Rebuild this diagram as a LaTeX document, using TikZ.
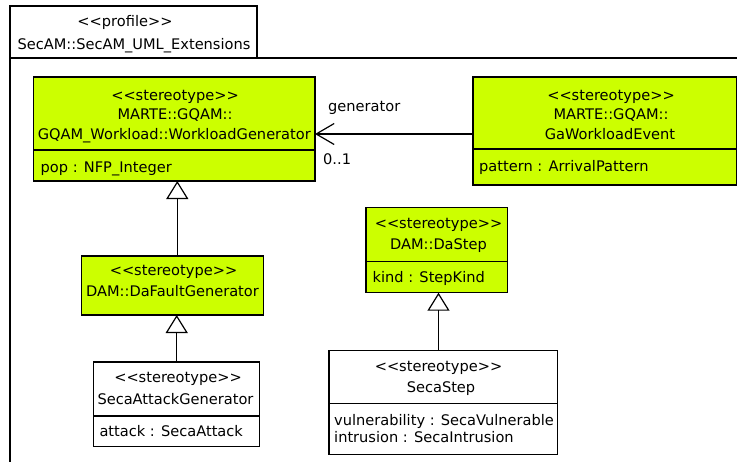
\documentclass[tikz,border=0pt]{standalone}
\usepackage{fontspec}
\newfontfamily\umlfont{DejaVu Sans}
\usetikzlibrary{arrows.meta}

\definecolor{Stereo}{HTML}{CCFF00}

\tikzset{
  uml/.style={draw, line width=1.2pt, anchor=north west, inner sep=0pt, outer sep=0pt},
  txt/.style={inner sep=0pt, anchor=base},
  attr/.style={inner sep=0pt, anchor=base west},
  inherit/.style={-{Triangle[open, length=18pt, width=22pt]}, line width=1.2pt},
  assoc/.style={-{Straight Barb[length=18pt, width=21pt]}, line width=1.2pt},
}

\begin{document}
\begin{tikzpicture}[x=1pt, y=-1pt, font=\umlfont\fontsize{14.6}{20}\selectfont]
\useasboundingbox (0,0) rectangle (737,461);

  %%%%%%%%%% Profile package %%%%%%%%%%
  \node[uml, minimum width=247pt, minimum height=52pt] (tab) at (10,6) {};
  \coordinate (pkgright) at (745,58);
  \coordinate (pkgbottom) at (10,470);
  \draw [line width=1.2pt] (pkgright) -- (tab.south west) -- (pkgbottom);
  \node[txt] (tabst) at (125,26) {<<profile>>};
  \node[txt] (tabname) at (134,49) {SecAM::SecAM\_UML\_Extensions};

%%%%%%%%%% Stereotype boxes %%%%%%%%%%
\node[uml, fill=Stereo, minimum width=281.5pt, minimum height=104pt] (wgen) at (33.5,77) {};
\node[uml, fill=Stereo, minimum width=263.5pt, minimum height=108pt] (gaevent) at (473,77) {};
\node[uml, fill=Stereo, minimum width=182pt, minimum height=59pt] (dafault) at (81.5,256) {};
\node[uml, fill=Stereo, minimum width=141.3pt, minimum height=85.4pt] (dastep) at (366,207.3) {};
\node[uml, fill=white, minimum width=166pt, minimum height=84.7pt] (secaattack) at (93.3,362) {};
\node[uml, fill=white, minimum width=228.7pt, minimum height=103.6pt] (secastep) at (329,350.7) {};

 %%%%%%%%%%% Compartment lines %%%%%%%%%%%
 \foreach \xa/\xb/\yy in {33.5/315/150, 473/736.5/149, 93.3/259.3/416, 366/507.3/261.5, 329/557.7/403.3}
 {
   \draw [line width=1.2pt] (\xa,\yy) -- (\xb,\yy);
 }

 %%%%%%%%%%% Names %%%%%%%%%%%
 \node[txt] (wgenst) at (175,100) {<<stereotype>>};
 \node[txt] (wgenpk) at (175,119.5) {MARTE::GQAM::};
 \node[txt] (wgenname) at (174.3,139) {GQAM\_Workload::WorkloadGenerator};
 \node[attr] (wgenpop) at (40.5,172) {pop : NFP\_Integer};

 \node[txt] (gaevst) at (611,100) {<<stereotype>>};
 \node[txt] (gaevpk) at (611,119.5) {MARTE::GQAM::};
 \node[txt] (gaevname) at (610,139) {GaWorkloadEvent};
 \node[attr] (gaevpat) at (479,171.5) {pattern : ArrivalPattern};

 \node[txt] (dafst) at (173.5,275) {<<stereotype>>};
 \node[txt] (dafname) at (172.5,296.5) {DAM::DaFaultGenerator};

 \node[txt] (attst) at (178,382.7) {<<stereotype>>};
 \node[txt] (attname) at (175.5,404) {SecaAttackGenerator};
 \node[attr] (attatt) at (99.3,436.7) {attack : SecaAttack};

 \node[txt] (dsst) at (438.5,228.5) {<<stereotype>>};
 \node[txt] (dsname) at (438.5,249.5) {DAM::DaStep};
 \node[attr] (dskind) at (372.5,282) {kind : StepKind};

 \node[txt] (ssst) at (438.5,371.7) {<<stereotype>>};
 \node[txt] (ssname) at (441,392) {SecaStep};
 \node[attr] (ssvul) at (334,425) {vulnerability : SecaVulnerable};
 \node[attr] (ssint) at (334,442) {intrusion : SecaIntrusion};

 %%%%%%%%%%% Generalisations %%%%%%%%%%%
  \coordinate (g1) at (177.3,0);
  \coordinate (g2) at (176.7,0);
  \coordinate (g3) at (438.5,0);
  \draw [inherit] (dafault.north -| g1) -- (wgen.south -| g1);
  \draw [inherit] (secaattack.north -| g2) -- (dafault.south -| g2);
  \draw [inherit] (secastep.north -| g3) -- (dastep.south -| g3);

 %%%%%%%%%%% Association %%%%%%%%%%%
  \coordinate (a1) at (0,134);
  \draw [assoc] (gaevent.west |- a1) -- (wgen.east |- a1);
  \node[attr] (assocrole) at (328,111.5) {generator};
  \node[attr] (assocmult) at (323,164) {0..1};

\end{tikzpicture}
\end{document}
